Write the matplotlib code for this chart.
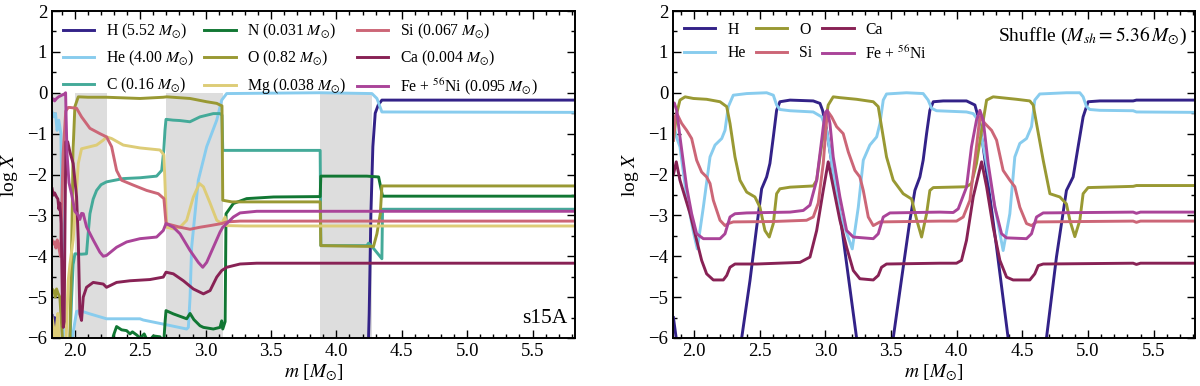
import matplotlib
matplotlib.use("Agg")
import matplotlib.pyplot as plt
from matplotlib.ticker import MultipleLocator

plt.rcParams['font.family'] = ['Liberation Serif', 'DejaVu Serif']
plt.rcParams['mathtext.fontset'] = 'stix'
plt.rcParams['axes.unicode_minus'] = True

# ---------------- colours ----------------
C_H = '#332288'
C_HE = '#88CCEE'
C_C = '#44AA99'
C_N = '#117733'
C_O = '#999933'
C_MG = '#DDCC77'
C_SI = '#CC6677'
C_CA = '#882255'
C_FE = '#AA4499'

# ---------------- left panel (s15A) data ----------------
bands = [(1.80, 1.93), (2.00, 2.245), (2.70, 3.13), (3.876, 4.272)]

H_m = [1.826, 1.835, 1.845, 1.852, 4.240, 4.246, 4.251, 4.264, 4.279, 4.297, 4.320, 4.348, 5.83]
H_y = [-5.45, -5.70, -5.50, -7.0, -7.0, -6.0, -5.40, -2.96, -1.32, -0.50, -0.30, -0.18, -0.18]

He_m = [1.826, 1.839, 1.852, 1.864, 1.877, 1.893, 1.903, 1.911, 1.92, 1.96, 1.99, 2.013, 2.038,
        2.115, 2.242, 2.498, 2.523, 2.676, 2.855, 2.868, 2.881, 2.893, 2.944, 3.008, 3.085,
        3.123, 3.161, 3.50, 3.876, 4.272, 4.310, 4.348, 5.83]
He_y = [-0.47, -0.59, -0.51, -0.92, -0.67, -1.00, -2.96, -6.0, -6.5, -6.5, -5.8, -5.35, -5.33,
        -5.41, -5.53, -5.53, -5.56, -5.66, -5.78, -5.74, -5.00, -3.78, -2.14, -1.32, -0.67,
        -0.18, -0.02, -0.01, 0.0, -0.02, -0.14, -0.47, -0.48]

C_m = [1.826, 1.96, 1.975, 1.987, 2.000, 2.050, 2.089, 2.100, 2.115, 2.140, 2.166, 2.200, 2.242,
       2.370, 2.498, 2.625, 2.664, 2.680, 2.689, 2.697, 2.750, 2.804, 2.880, 2.957, 3.059,
       3.110, 3.125, 3.131, 3.876, 3.881, 4.233, 4.246, 4.272, 4.348, 4.353, 5.83]
C_y = [-6.3, -6.3, -5.0, -4.2, -3.94, -3.95, -3.94, -3.50, -2.96, -2.60, -2.39, -2.25, -2.18,
       -2.10, -2.08, -2.04, -1.90, -1.40, -0.92, -0.65, -0.67, -0.68, -0.71, -0.59, -0.51,
       -0.51, -0.55, -1.41, -1.41, -3.74, -3.74, -3.68, -3.76, -4.06, -2.85, -2.85]

N_m = [1.826, 2.280, 2.294, 2.319, 2.357, 2.396, 2.421, 2.440, 2.470, 2.500, 2.530, 2.560,
       2.600, 2.650, 2.680, 2.690, 2.697, 2.753, 2.830, 2.855, 2.881, 2.910, 2.957, 2.983,
       3.059, 3.110, 3.123, 3.131, 3.149, 3.156, 3.212, 3.314, 3.519, 3.876, 3.881, 4.233,
       4.323, 4.353, 5.83]
N_y = [-6.5, -6.5, -5.95, -5.72, -5.80, -5.82, -5.90, -5.85, -5.92, -6.00, -5.90, -6.10,
       -5.95, -5.97, -6.10, -5.60, -5.33, -5.41, -5.50, -5.53, -5.40, -5.55, -5.70, -5.74,
       -5.78, -5.74, -5.58, -5.78, -5.60, -2.96, -2.71, -2.59, -2.55, -2.54, -2.04, -2.04,
       -2.06, -2.53, -2.53]

O_m = [1.826, 1.840, 1.850, 1.860, 1.870, 1.885, 1.895, 1.910, 1.960, 1.974, 1.987, 2.000,
       2.026, 2.100, 2.242, 2.498, 2.676, 2.702, 2.881, 3.008, 3.085, 3.110, 3.125, 3.131,
       3.200, 3.876, 3.881, 4.272, 4.284, 4.310, 4.336, 4.348, 5.83]
O_y = [-4.80, -4.85, -5.00, -4.80, -4.90, -5.00, -5.50, -6.3, -6.3, -4.00, -1.34, -0.34,
       -0.10, -0.11, -0.11, -0.14, -0.11, -0.10, -0.14, -0.22, -0.26, -0.30, -0.32, -2.63,
       -2.67, -2.67, -3.74, -3.76, -3.76, -3.45, -2.96, -2.28, -2.28]

Mg_m = [1.826, 1.840, 1.850, 1.860, 1.870, 1.880, 1.930, 1.949, 1.962, 1.974, 1.987, 2.000,
        2.026, 2.051, 2.115, 2.166, 2.217, 2.242, 2.281, 2.370, 2.498, 2.651, 2.681, 2.702,
        2.753, 2.804, 2.855, 2.906, 2.952, 2.983, 3.034, 3.085, 3.123, 3.149, 3.161, 3.300, 5.83]
Mg_y = [-5.50, -5.80, -6.2, -5.70, -5.40, -6.3, -6.3, -4.60, -4.20, -3.90, -3.60, -2.96,
        -1.73, -1.37, -1.32, -1.28, -1.16, -1.08, -1.12, -1.28, -1.35, -1.40, -1.52, -3.29,
        -3.33, -3.29, -3.12, -2.55, -2.22, -2.30, -2.70, -3.12, -3.20, -3.04, -3.25, -3.26, -3.26]

Si_m = [1.826, 1.835, 1.845, 1.855, 1.865, 1.875, 1.890, 1.910, 1.930, 1.949, 1.962, 2.013,
        2.051, 2.115, 2.191, 2.242, 2.281, 2.319, 2.357, 2.447, 2.549, 2.638, 2.681, 2.697,
        2.804, 2.881, 2.957, 3.034, 3.123, 3.161, 3.263, 5.83]
Si_y = [-3.60, -3.70, -3.65, -3.80, -3.60, -3.75, -4.00, -1.50, -0.45, -0.36, -0.36, -0.38,
        -0.59, -0.87, -1.00, -1.08, -1.32, -1.90, -2.14, -2.26, -2.39, -2.47, -2.59, -3.20,
        -3.29, -3.34, -3.29, -3.25, -3.20, -3.16, -3.14, -3.14]

Ca_m = [1.826, 1.835, 1.845, 1.860, 1.870, 1.878, 1.885, 1.895, 1.905, 1.911, 1.918, 1.925,
        1.931, 1.945, 1.962, 1.987, 2.013, 2.026, 2.038, 2.051, 2.064, 2.089, 2.140, 2.217,
        2.242, 2.268, 2.319, 2.421, 2.574, 2.676, 2.697, 2.753, 2.830, 2.906, 2.983, 3.034,
        3.085, 3.123, 3.161, 3.263, 3.391, 5.83]
Ca_y = [-2.35, -2.50, -2.45, -2.55, -2.60, -2.85, -2.70, -3.20, -5.20, -5.74, -5.60, -3.00,
        -1.20, -1.20, -1.45, -1.73, -2.55, -3.60, -5.41, -5.57, -5.00, -4.76, -4.64, -4.68,
        -4.76, -4.72, -4.64, -4.60, -4.57, -4.51, -4.39, -4.43, -4.60, -4.80, -4.92, -4.84,
        -4.51, -4.35, -4.27, -4.19, -4.17, -4.17]

Fe_m = [1.826, 1.835, 1.845, 1.860, 1.875, 1.900, 1.920, 1.929, 1.933, 1.940, 1.955, 1.974,
        2.000, 2.013, 2.026, 2.038, 2.051, 2.064, 2.089, 2.140, 2.191, 2.217, 2.242, 2.319,
        2.396, 2.498, 2.625, 2.676, 2.697, 2.753, 2.804, 2.881, 2.944, 2.978, 3.008, 3.059,
        3.110, 3.131, 3.161, 3.212, 3.263, 3.391, 5.83]
Fe_y = [-0.18, -0.15, -0.20, -0.14, -0.10, -0.06, -0.03, 0.00, -0.60, -1.50, -2.20, -2.47,
        -2.90, -2.95, -3.00, -3.10, -2.95, -2.96, -3.28, -3.60, -3.90, -4.00, -3.98, -3.78,
        -3.65, -3.57, -3.53, -3.37, -3.20, -3.29, -3.45, -3.86, -4.15, -4.27, -4.15, -3.78,
        -3.41, -3.29, -3.20, -3.04, -2.94, -2.90, -2.90]

left_labels = [r'H (5.52 $M_{\odot}$)', r'He (4.00 $M_{\odot}$)', r'C (0.16 $M_{\odot}$)',
               r'N (0.031 $M_{\odot}$)', r'O (0.82 $M_{\odot}$)', r'Mg (0.038 $M_{\odot}$)',
               r'Si (0.067 $M_{\odot}$)', r'Ca (0.004 $M_{\odot}$)',
               r'Fe + $^{56}$Ni (0.095 $M_{\odot}$)']

# ---------------- right panel (Shuffle) data ----------------
sH_m = [1.843, 1.860, 1.900, 2.330, 2.363, 2.426, 2.477, 2.515, 2.553, 2.578, 2.604, 2.629,
        2.654, 2.731, 2.908, 2.959, 2.979, 3.010, 3.111, 3.238, 3.270, 3.490, 3.517, 3.593,
        3.644, 3.682, 3.720, 3.745, 3.771, 3.796, 3.822, 3.898, 4.075, 4.139, 4.164, 4.202,
        4.304, 4.392, 4.420, 4.660, 4.684, 4.760, 4.836, 4.887, 4.925, 4.963, 5.001, 5.090,
        5.344, 5.369, 5.815]
sH_y = [-5.50, -5.90, -6.8, -6.8, -6.00, -4.60, -3.29, -2.35, -2.06, -1.73, -1.08, -0.43,
        -0.22, -0.18, -0.20, -0.26, -0.43, -0.92, -2.96, -6.00, -6.8, -6.8, -6.00, -4.27,
        -3.12, -2.39, -2.06, -1.65, -1.00, -0.43, -0.22, -0.20, -0.20, -0.30, -0.59, -1.32,
        -3.78, -6.00, -6.8, -6.8, -6.00, -4.02, -2.39, -2.06, -1.32, -0.59, -0.22, -0.20,
        -0.20, -0.18, -0.18]

sHe_m = [1.843, 1.868, 1.893, 1.944, 1.995, 2.025, 2.071, 2.122, 2.160, 2.211, 2.236, 2.261,
         2.299, 2.401, 2.553, 2.604, 2.629, 2.654, 2.731, 2.908, 2.972, 3.010, 3.111, 3.205,
         3.251, 3.289, 3.339, 3.391, 3.416, 3.441, 3.466, 3.618, 3.745, 3.783, 3.809, 3.847,
         4.075, 4.126, 4.164, 4.228, 4.354, 4.405, 4.443, 4.481, 4.532, 4.570, 4.595, 4.633,
         4.836, 4.938, 4.963, 4.989, 5.014, 5.090, 5.344, 5.369, 5.815]
sHe_y = [-0.75, -1.10, -1.32, -2.55, -3.40, -3.82, -2.80, -1.57, -1.28, -1.12, -0.92, -0.34,
         -0.06, -0.02, 0.00, -0.06, -0.30, -0.41, -0.44, -0.47, -0.59, -0.92, -2.96, -3.82,
         -2.80, -1.65, -1.28, -1.08, -0.75, -0.18, -0.03, 0.00, -0.02, -0.18, -0.38, -0.44,
         -0.47, -0.51, -0.67, -1.73, -3.86, -2.96, -1.57, -1.24, -1.12, -0.83, -0.18, -0.03,
         0.00, 0.00, -0.10, -0.34, -0.41, -0.43, -0.44, -0.47, -0.48]

sO_m = [1.843, 1.868, 1.893, 1.932, 1.995, 2.096, 2.198, 2.249, 2.274, 2.312, 2.350, 2.401,
        2.464, 2.502, 2.540, 2.573, 2.604, 2.629, 2.654, 2.731, 2.908, 2.934, 2.959, 2.997,
        3.022, 3.060, 3.111, 3.238, 3.365, 3.403, 3.428, 3.466, 3.517, 3.593, 3.657, 3.695,
        3.733, 3.771, 3.796, 3.822, 4.075, 4.113, 4.151, 4.190, 4.228, 4.278, 4.456, 4.557,
        4.583, 4.608, 4.659, 4.710, 4.786, 4.836, 4.862, 4.900, 4.938, 4.963, 5.001, 5.344,
        5.369, 5.815]
sO_y = [-1.16, -0.51, -0.18, -0.10, -0.14, -0.16, -0.22, -0.34, -0.75, -1.57, -2.14, -2.43,
        -2.55, -2.80, -3.37, -3.53, -3.20, -2.47, -2.35, -2.31, -2.28, -2.14, -1.57, -0.75,
        -0.30, -0.10, -0.12, -0.16, -0.22, -0.34, -0.83, -1.57, -2.14, -2.47, -2.60, -3.10,
        -3.53, -2.96, -2.39, -2.32, -2.30, -2.22, -1.73, -0.92, -0.18, -0.10, -0.16, -0.20,
        -0.30, -0.75, -1.65, -2.47, -2.55, -2.72, -3.12, -3.52, -3.12, -2.47, -2.32, -2.29,
        -2.27, -2.27]

sSi_m = [1.843, 1.855, 1.868, 1.906, 1.944, 1.982, 2.020, 2.058, 2.096, 2.122, 2.147, 2.198,
         2.236, 2.261, 2.299, 2.604, 2.857, 2.908, 2.946, 2.984, 3.010, 3.022, 3.048, 3.086,
         3.136, 3.175, 3.225, 3.263, 3.289, 3.327, 3.365, 3.416, 3.872, 3.999, 4.050, 4.101,
         4.151, 4.177, 4.215, 4.266, 4.304, 4.354, 4.405, 4.443, 4.481, 4.532, 4.570, 4.608,
         5.344, 5.369, 5.400, 5.815]
sSi_y = [-1.16, -0.60, -0.50, -0.75, -0.92, -1.12, -1.65, -1.94, -2.06, -2.22, -2.63, -3.12,
         -3.25, -3.20, -3.16, -3.15, -3.12, -3.04, -2.70, -1.73, -0.67, -0.47, -0.59, -0.83,
         -1.00, -1.45, -1.90, -2.06, -2.39, -3.04, -3.25, -3.16, -3.14, -3.14, -3.04, -2.63,
         -1.32, -0.59, -0.75, -0.92, -1.16, -1.90, -2.14, -2.30, -2.80, -3.20, -3.25, -3.16,
         -3.14, -3.17, -3.14, -3.14]

sCa_m = [1.843, 1.865, 1.893, 1.970, 2.020, 2.058, 2.096, 2.147, 2.223, 2.249, 2.274, 2.312,
         2.477, 2.807, 2.883, 2.934, 2.984, 3.022, 3.060, 3.111, 3.162, 3.213, 3.263, 3.365,
         3.403, 3.428, 3.466, 3.872, 3.999, 4.037, 4.075, 4.126, 4.190, 4.228, 4.278, 4.329,
         4.380, 4.430, 4.557, 4.595, 4.621, 4.659, 5.344, 5.369, 5.400, 5.815]
sCa_y = [-2.00, -1.69, -2.14, -2.96, -3.61, -4.10, -4.43, -4.58, -4.58, -4.47, -4.27, -4.19,
         -4.19, -4.15, -4.02, -3.37, -2.39, -1.69, -2.30, -3.12, -3.78, -4.35, -4.55, -4.58,
         -4.47, -4.27, -4.19, -4.17, -4.17, -4.10, -3.61, -2.55, -1.69, -2.30, -3.29, -4.10,
         -4.51, -4.58, -4.58, -4.43, -4.23, -4.19, -4.17, -4.20, -4.17, -4.17]

sFe_m = [1.843, 1.850, 1.868, 1.893, 1.944, 1.982, 2.020, 2.071, 2.198, 2.236, 2.274, 2.312,
         2.401, 2.731, 2.832, 2.883, 2.934, 2.972, 2.997, 3.015, 3.035, 3.060, 3.111, 3.162,
         3.213, 3.365, 3.403, 3.441, 3.492, 3.872, 3.974, 4.012, 4.075, 4.113, 4.151, 4.177,
         4.202, 4.240, 4.291, 4.342, 4.380, 4.532, 4.570, 4.608, 4.659, 5.344, 5.369, 5.400,
         5.815]
sFe_y = [-0.30, -0.25, -0.43, -1.08, -2.31, -2.96, -3.45, -3.57, -3.57, -3.45, -3.04, -2.96,
         -2.94, -2.92, -2.88, -2.75, -2.14, -1.16, -0.50, -0.43, -0.75, -1.57, -2.55, -3.37,
         -3.53, -3.57, -3.45, -3.04, -2.94, -2.92, -2.93, -2.84, -2.31, -1.32, -0.67, -0.43,
         -0.67, -1.73, -2.80, -3.45, -3.55, -3.57, -3.45, -3.04, -2.94, -2.92, -2.95, -2.92,
         -2.92]

right_labels = ['H', 'He', 'O', 'Si', 'Ca', r'Fe + $^{56}$Ni']

# ---------------- figure ----------------
fig = plt.figure(figsize=(12, 3.86), dpi=100)
axL = fig.add_axes([52 / 1200, 48 / 386, 523 / 1200, 327 / 386])
axR = fig.add_axes([673 / 1200, 48 / 386, 522 / 1200, 327 / 386])

LW = 2.1

for x0, x1 in bands:
    axL.fill_between([x0, x1], -6, 0, color='#dddddd', lw=0, zorder=0)

left_series = [(H_m, H_y, C_H), (He_m, He_y, C_HE), (C_m, C_y, C_C), (N_m, N_y, C_N),
               (O_m, O_y, C_O), (Mg_m, Mg_y, C_MG), (Si_m, Si_y, C_SI), (Ca_m, Ca_y, C_CA),
               (Fe_m, Fe_y, C_FE)]
for (xm, yv, col), lab in zip(left_series, left_labels):
    axL.plot(xm, yv, color=col, lw=LW, label=lab, solid_joinstyle='round')

right_series = [(sH_m, sH_y, C_H), (sHe_m, sHe_y, C_HE), (sO_m, sO_y, C_O),
                (sSi_m, sSi_y, C_SI), (sCa_m, sCa_y, C_CA), (sFe_m, sFe_y, C_FE)]
for (xm, yv, col), lab in zip(right_series, right_labels):
    axR.plot(xm, yv, color=col, lw=LW, label=lab, solid_joinstyle='round')

for ax, xl in ((axL, (1.825, 5.825)), (axR, (1.84, 5.815))):
    ax.set_xlim(*xl)
    ax.set_ylim(-6, 2)
    ax.xaxis.set_major_locator(MultipleLocator(0.5))
    ax.xaxis.set_minor_locator(MultipleLocator(0.1))
    ax.yaxis.set_major_locator(MultipleLocator(1))
    ax.yaxis.set_minor_locator(MultipleLocator(0.5))
    ax.tick_params(which='both', direction='in', top=True, right=True, labelsize=13.5)
    ax.tick_params(which='major', length=6, width=1.0)
    ax.tick_params(which='minor', length=3, width=1.0)
    for sp in ax.spines.values():
        sp.set_linewidth(1.4)
    ax.set_xlabel(r'$m$ [$M_{\odot}$]', fontsize=14, labelpad=2)
    ax.set_ylabel(r'log $X$', fontsize=14, labelpad=5)

axL.legend(loc='upper left', ncol=3, frameon=False, fontsize=11.3, handlelength=2.0,
           columnspacing=0.65, labelspacing=0.5, handletextpad=0.75,
           borderaxespad=0.3)
axR.legend(loc='upper left', ncol=3, frameon=False, fontsize=11.3, handlelength=2.0,
           columnspacing=0.65, labelspacing=0.45, handletextpad=0.75,
           borderaxespad=0.3)

axL.text(0.985, 0.03, 's15A', transform=axL.transAxes, ha='right', va='bottom', fontsize=15.5)
axR.text(0.985, 0.925, r'Shuffle ($M_{sh} = 5.36\,M_{\odot}$)', transform=axR.transAxes,
         ha='right', va='center', fontsize=14)

fig.savefig('out.png', dpi=100)
